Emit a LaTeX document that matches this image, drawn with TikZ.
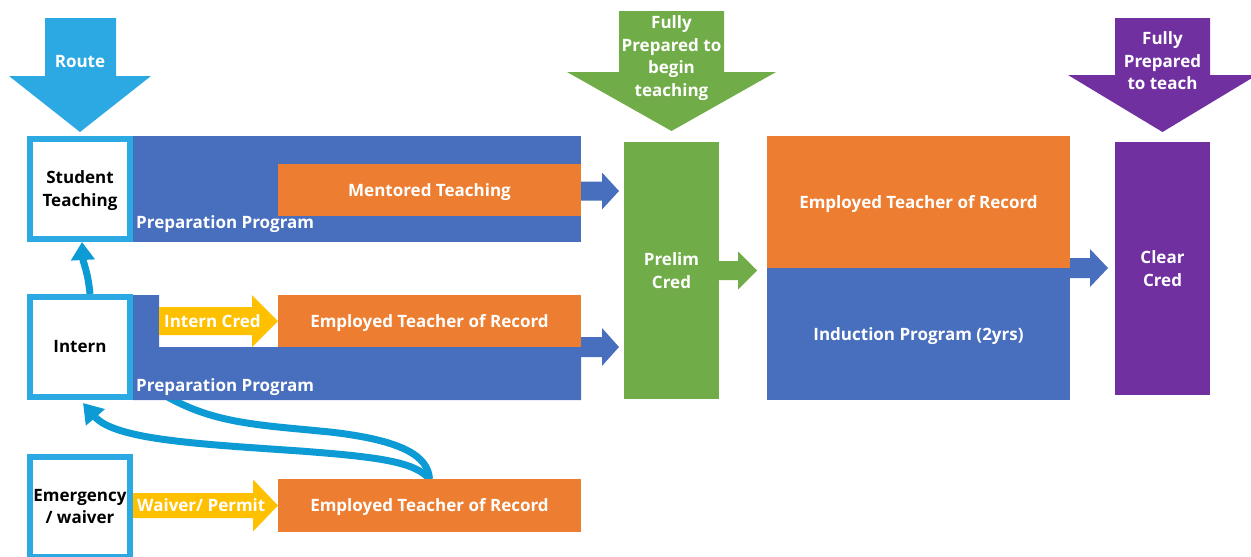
\documentclass[tikz,border=0pt]{standalone}
\usepackage{fontspec}
\setmainfont{Open Sans}
\usetikzlibrary{arrows.meta,backgrounds}

\definecolor{routeblue}{RGB}{44,169,226}
\definecolor{curveblue}{RGB}{12,155,212}
\definecolor{progblue}{RGB}{72,110,190}
\definecolor{teachorange}{RGB}{236,125,49}
\definecolor{credyellow}{RGB}{255,192,0}
\definecolor{prelimgreen}{RGB}{112,172,71}
\definecolor{clearpurple}{RGB}{112,48,160}

\begin{document}
\begin{tikzpicture}[x=1pt,y=-1pt,
    lbl/.style={text=white,font=\fontsize{17}{22.5}\selectfont\bfseries,align=center,inner sep=0pt},
    slot/.style={draw=routeblue,line width=6pt,fill=white,minimum width=100pt,minimum height=100pt,
      inner sep=0pt,align=center,font=\fontsize{17}{22.5}\selectfont\bfseries},
    bar/.style={lbl,anchor=north west,outer sep=0pt},
    oneline/.style={text height=15pt,text depth=3pt},
    link/.style={draw=curveblue,line width=7pt}]
    \useasboundingbox (0,0) rectangle (1251,557);

    % Route boxes on the left
    \node[slot] (student) at (80,189) {\strut Student\\Teaching};
    \node[slot] (intern) at (80,347) {Intern};
    \node[slot] (emerg) at (80,506.5) {Emergency\\/ waiver};

    % Route arrow
    \fill[routeblue] (45,18) -- (116,18) -- (116,76) -- (151,76) -- (80,132) -- (9,76) -- (45,76) -- cycle;
    \node[lbl] (route) at (80,62) {Route};

    % Preparation programs
    \node[bar,fill=progblue,minimum width=448pt,minimum height=106pt] (prep1) at (133,136) {};
    \fill[progblue] (133,295) -- (159,295) -- (159,347) -- (581,347) -- (581,400) -- (133,400) -- cycle;
    \node[lbl,anchor=west] (prog1) at (136,224) {Preparation Program};
    \node[lbl,anchor=west] (prog2) at (136,387) {Preparation Program};

    % Orange teacher-of-record bars
    \node[bar,oneline,fill=teachorange,minimum width=303pt,minimum height=52pt] (mentored) at (278,164) {Mentored Teaching};
    \node[bar,oneline,fill=teachorange,minimum width=303pt,minimum height=52pt] (etr2) at (278,295) {Employed Teacher of Record};
    \node[bar,oneline,fill=teachorange,minimum width=303pt,minimum height=53pt] (etr3) at (278,479) {Employed Teacher of Record};

    % Credential arrows
    \fill[credyellow] (etr2.west) -- ++(-26,-26) -- ++(0,12) -- ++(-93,0) -- ++(0,28) -- ++(93,0) -- ++(0,12) -- cycle;
    \node[lbl,anchor=west] (icred) at (164,321) {Intern Cred};
    \fill[credyellow] (etr3.west) -- ++(-25,-26) -- ++(0,13.5) -- ++(-120,0) -- ++(0,25) -- ++(120,0) -- ++(0,13.5) -- cycle;
    \node[lbl,anchor=west] (waiver) at (137,505) {Waiver/ Permit};

    % Links from the emergency route back up
    \begin{scope}[on background layer]
      \draw[link] (etr3.north) .. controls (428,455) and (400,440) .. (330,432)
          .. controls (260,425) and (215,424) .. (166,396);
      \draw[link,-{Triangle[length=19pt,width=24pt]}] (etr3.north) .. controls (415,462) and (380,457) .. (300,451)
          .. controls (200,444) and (115,440) .. ([xshift=3pt,yshift=-3pt]intern.south);
      \draw[link,-{Triangle[length=18pt,width=23pt]}] ([xshift=10pt]intern.north) .. controls (88,272) and (83,262) .. ([xshift=2pt]student.south);
    \end{scope}

    % Preliminary credential
    \fill[prelimgreen] (619,11) -- (724,11) -- (724,72) -- (776,72) -- (671.5,131) -- (567,72) -- (619,72) -- cycle;
    \node[lbl] (begin) at (671.5,58) {Fully\\Prepared to\\begin\\teaching};
    \node[bar,fill=prelimgreen,minimum width=95pt,minimum height=257pt] (prelim) at (624,142) {Prelim\\Cred};
    \fill[progblue] (mentored.east) ++(0,-8.5) -- ++(21,0) -- ++(0,-9) -- ++(17,18.5) -- ++(-17,18.5) -- ++(0,-9) -- ++(-21,0) -- cycle;
    \fill[progblue] (etr2.south east) ++(0,-10) -- ++(21,0) -- ++(0,-9) -- ++(17,19) -- ++(-17,19) -- ++(0,-9) -- ++(-21,0) -- cycle;
    \fill[prelimgreen] (prelim.east) ++(0,-9.5) -- ++(19,0) -- ++(0,-9.5) -- ++(19,19) -- ++(-19,19) -- ++(0,-9.5) -- ++(-19,0) -- cycle;

    % Induction years
    \node[bar,oneline,fill=teachorange,minimum width=303pt,minimum height=132pt] (etr4) at (767,136) {Employed Teacher of Record};
    \node[bar,oneline,fill=progblue,minimum width=303pt,minimum height=132pt] (induct) at (767,268) {Induction Program (2yrs)};
    \fill[progblue] (etr4.south east) ++(0,-10) -- ++(20,0) -- ++(0,-9) -- ++(18,19) -- ++(-18,19) -- ++(0,-9) -- ++(-20,0) -- cycle;

    % Clear credential
    \fill[clearpurple] (1115,18) -- (1210,18) -- (1210,75) -- (1257,75) -- (1162.5,132) -- (1068,75) -- (1115,75) -- cycle;
    \node[lbl] (teach) at (1162.5,61) {Fully\\Prepared\\to teach};
    \node[bar,fill=clearpurple,minimum width=95pt,minimum height=253pt] (clear) at (1115,142) {Clear\\Cred};
\end{tikzpicture}
\end{document}
